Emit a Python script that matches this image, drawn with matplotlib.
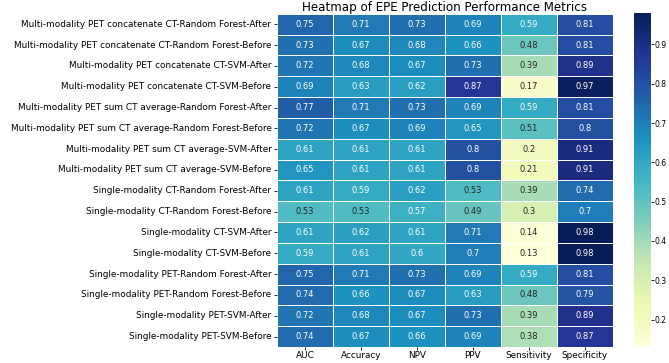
import numpy as np
import matplotlib
matplotlib.use("Agg")
import matplotlib.pyplot as plt
import seaborn as sns

models = [
    "Multi-modality PET concatenate CT-Random Forest-After",
    "Multi-modality PET concatenate CT-Random Forest-Before",
    "Multi-modality PET concatenate CT-SVM-After",
    "Multi-modality PET concatenate CT-SVM-Before",
    "Multi-modality PET sum CT average-Random Forest-After",
    "Multi-modality PET sum CT average-Random Forest-Before",
    "Multi-modality PET sum CT average-SVM-After",
    "Multi-modality PET sum CT average-SVM-Before",
    "Single-modality CT-Random Forest-After",
    "Single-modality CT-Random Forest-Before",
    "Single-modality CT-SVM-After",
    "Single-modality CT-SVM-Before",
    "Single-modality PET-Random Forest-After",
    "Single-modality PET-Random Forest-Before",
    "Single-modality PET-SVM-After",
    "Single-modality PET-SVM-Before",
]
metrics = ["AUC", "Accuracy", "NPV", "PPV", "Sensitivity", "Specificity"]

auc = [0.75, 0.73, 0.72, 0.69, 0.77, 0.72, 0.61, 0.65, 0.61, 0.53, 0.61, 0.59, 0.75, 0.74, 0.72, 0.74]
accuracy = [0.71, 0.67, 0.68, 0.63, 0.71, 0.67, 0.61, 0.61, 0.59, 0.53, 0.62, 0.61, 0.71, 0.66, 0.68, 0.67]
npv = [0.73, 0.68, 0.67, 0.62, 0.73, 0.69, 0.61, 0.61, 0.62, 0.57, 0.61, 0.6, 0.73, 0.67, 0.67, 0.66]
ppv = [0.69, 0.66, 0.73, 0.87, 0.69, 0.65, 0.8, 0.8, 0.53, 0.49, 0.71, 0.7, 0.69, 0.63, 0.73, 0.69]
sensitivity = [0.59, 0.48, 0.39, 0.17, 0.59, 0.51, 0.2, 0.21, 0.39, 0.3, 0.14, 0.13, 0.59, 0.48, 0.39, 0.38]
specificity = [0.81, 0.81, 0.89, 0.97, 0.81, 0.8, 0.91, 0.91, 0.74, 0.7, 0.98, 0.98, 0.81, 0.79, 0.89, 0.87]

data = np.array([auc, accuracy, npv, ppv, sensitivity, specificity]).T

fig = plt.figure(figsize=(6.69, 3.63), dpi=100)
ax = fig.add_axes([0.414, 0.044, 0.502, 0.918])
cax = fig.add_axes([0.947, 0.044, 0.0254, 0.920])

sns.heatmap(data, annot=True, fmt="g", cmap="YlGnBu", linewidths=0.5,
            linecolor="white", xticklabels=metrics, yticklabels=models,
            ax=ax, cbar_ax=cax, annot_kws={"fontsize": 6})

ax.set_title("Heatmap of EPE Prediction Performance Metrics", fontsize=8.6, pad=2)
ax.tick_params(axis="y", labelsize=6.4, length=2.5, width=0.6, pad=1.5, rotation=0)
ax.tick_params(axis="x", labelsize=6.4, length=2, width=0.6, pad=0.5, rotation=0)
cax.tick_params(labelsize=5.5, length=2, width=0.6, pad=1)

fig.savefig("out.png", dpi=100)
